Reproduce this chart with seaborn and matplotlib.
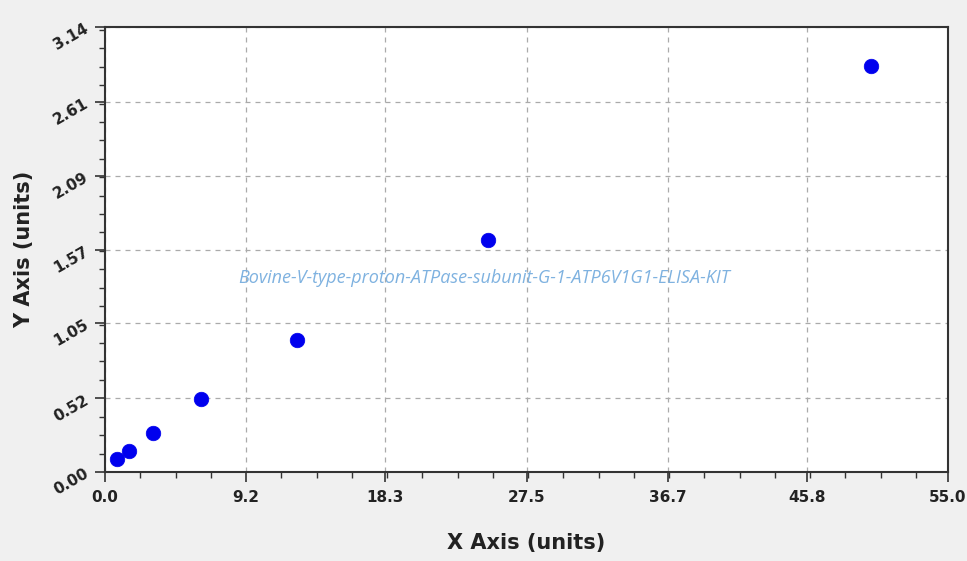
import numpy as np
import pandas as pd
import matplotlib
matplotlib.use("Agg")
import matplotlib.pyplot as plt
import seaborn as sns
from matplotlib.ticker import FixedLocator, AutoMinorLocator

# -----------------------------
# Data
# -----------------------------
conc = [0.78, 1.56, 3.13, 6.25, 12.5, 25.0, 50.0]
od = [0.092, 0.148, 0.275, 0.515, 0.93, 1.637, 2.865]

x_ticks = [0.0, 9.2, 18.3, 27.5, 36.7, 45.8, 55.0]
y_ticks = [0.00, 0.52, 1.05, 1.57, 2.09, 2.61, 3.14]

df = pd.DataFrame({"x": conc, "y": od})

# -----------------------------
# Plot
# -----------------------------
sns.set_style("white")
plt.rcParams["font.family"] = ["DejaVu Sans"]

fig = plt.figure(figsize=(9.67, 5.61), dpi=100, facecolor="#f0f0f0")
ax = fig.add_axes([105 / 967, 1 - 472 / 561, (948 - 105) / 967, (472 - 27) / 561])
ax.set_facecolor("white")

sns.scatterplot(data=df, x="x", y="y", ax=ax, color="#0000ee", s=110,
                edgecolor="#0000ee", linewidth=0.5, zorder=3)

ax.set_xlim(0, 55.0)
ax.set_ylim(0, 3.14)
ax.xaxis.set_major_locator(FixedLocator(x_ticks))
ax.yaxis.set_major_locator(FixedLocator(y_ticks))
ax.xaxis.set_minor_locator(AutoMinorLocator(4))
ax.yaxis.set_minor_locator(AutoMinorLocator(4))
ax.set_xticklabels([f"{v:.1f}" for v in x_ticks], fontsize=11, fontweight="bold", color="#222222")
ax.set_yticklabels([f"{v:.2f}" for v in y_ticks], fontsize=11, fontweight="bold", color="#222222",
                   rotation=30)

ax.tick_params(axis="both", which="both", bottom=True, left=True, top=False, right=False)
ax.tick_params(axis="both", which="major", direction="out", length=7, width=1.2, color="#333333")
ax.tick_params(axis="both", which="minor", direction="out", length=4, width=1.0, color="#333333")
ax.tick_params(axis="x", which="major", pad=6)
ax.tick_params(axis="y", which="major", pad=3)

ax.grid(True, which="major", linestyle=(0, (4, 4)), color="#aaaaaa", linewidth=0.9)
ax.set_axisbelow(True)
for sp in ax.spines.values():
    sp.set_visible(True)
    sp.set_color("#333333")
    sp.set_linewidth(1.5)

ax.set_xlabel("X Axis (units)", fontsize=15, fontweight="bold", color="#222222", labelpad=20)
ax.set_ylabel("Y Axis (units)", fontsize=15, fontweight="bold", color="#222222", labelpad=12)

ax.text(0.45, 0.435, "Bovine-V-type-proton-ATPase-subunit-G-1-ATP6V1G1-ELISA-KIT",
        transform=ax.transAxes, ha="center", va="center", fontsize=13,
        style="italic", color="#7fb2e0", family=["Open Sans", "DejaVu Sans"], zorder=2)

fig.savefig("out.png", dpi=100, facecolor=fig.get_facecolor())
